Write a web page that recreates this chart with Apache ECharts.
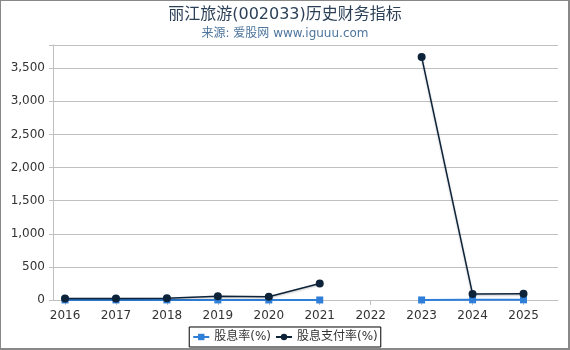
<!DOCTYPE html>
<html><head><meta charset="utf-8">
<script src="https://cdn.jsdelivr.net/npm/echarts@6/dist/echarts.min.js"></script>
<style>
html,body{margin:0;padding:0;background:#fff;}
#c{position:absolute;left:0;top:0;width:570px;height:350px;}
#b{position:absolute;left:0;top:0;width:570px;height:350px;box-sizing:border-box;border-top:1px solid #888;border-left:1px solid #888;border-right:2px solid #888;border-bottom:2px solid #888;pointer-events:none;}
</style></head>
<body><div id="c"></div><div id="b"></div>
<script>
const years = ['2016','2017','2018','2019','2020','2021','2022','2023','2024','2025'];
const yieldPct = [0.8, 0.9, 1.1, 1.0, 0.6, 0.3, null, 0.6, 2.5, 2.8];
const payoutPct = [22, 22, 25, 55, 50, 250, null, 3670, 90, 95];
const yTicks = [0, 500, 1000, 1500, 2000, 2500, 3000, 3500];

const F = 'DejaVu Sans, Noto Sans CJK SC, sans-serif';
const xs = years.map(Number);
const chart = echarts.init(document.getElementById('c'));
chart.setOption({
  animation: false,
  title: {
    text: '丽江旅游(002033)历史财务指标',
    subtext: '来源: 爱股网 www.iguuu.com',
    left: 'center', top: 2, itemGap: 5,
    textStyle: {fontFamily: F, fontSize: 16, fontWeight: 'normal', color: '#2b3f57'},
    subtextStyle: {fontFamily: F, fontSize: 12, color: '#4d759e'}
  },
  legend: {
    bottom: 3, left: 'center',
    borderColor: '#000', borderWidth: 1, padding: [4, 3],
    itemGap: 4, itemWidth: 16, itemHeight: 8,
    textStyle: {fontFamily: F, fontSize: 12, color: '#333'},
    data: ['股息率(%)', '股息支付率(%)']
  },
  grid: {left: 53, right: 12, top: 45, bottom: 50, containLabel: false},
  xAxis: {
    type: 'value', min: 2015.764, max: 2025.677, offset: 4,
    splitLine: {show: false},
    axisLine: {show: true, lineStyle: {color: '#c0c0c0'}},
    axisTick: {show: true, length: 5, lineStyle: {color: '#c0c0c0'}, customValues: xs},
    axisLabel: {fontFamily: F, fontSize: 12, color: '#333', margin: 6, customValues: xs, formatter: v => String(v)}
  },
  yAxis: {
    type: 'value', min: 0, max: 3850, interval: 500,
    axisLine: {show: true, lineStyle: {color: '#c0c0c0'}},
    axisTick: {show: true, length: 4, lineStyle: {color: '#c0c0c0'}},
    splitLine: {show: true, lineStyle: {color: '#c0c0c0'}},
    axisLabel: {fontFamily: F, fontSize: 12, color: '#333', margin: 8,
      customValues: yTicks,
      formatter: v => v.toLocaleString('en-US')}
  },
  series: [
    {
      name: '股息率(%)', type: 'line',
      data: xs.map((x, i) => [x, yieldPct[i]]),
      connectNulls: false,
      symbol: 'rect', symbolSize: 7,
      itemStyle: {color: '#2f7ed8'},
      lineStyle: {color: '#2f7ed8', width: 2}
    },
    {
      name: '股息支付率(%)', type: 'line',
      data: xs.map((x, i) => [x, payoutPct[i]]),
      connectNulls: false,
      symbol: 'circle', symbolSize: 8,
      itemStyle: {color: '#0d233a'},
      lineStyle: {color: '#0d233a', width: 1.5, shadowColor: 'rgba(0,0,0,0.25)', shadowBlur: 2, shadowOffsetY: 1}
    }
  ]
});
</script></body></html>
